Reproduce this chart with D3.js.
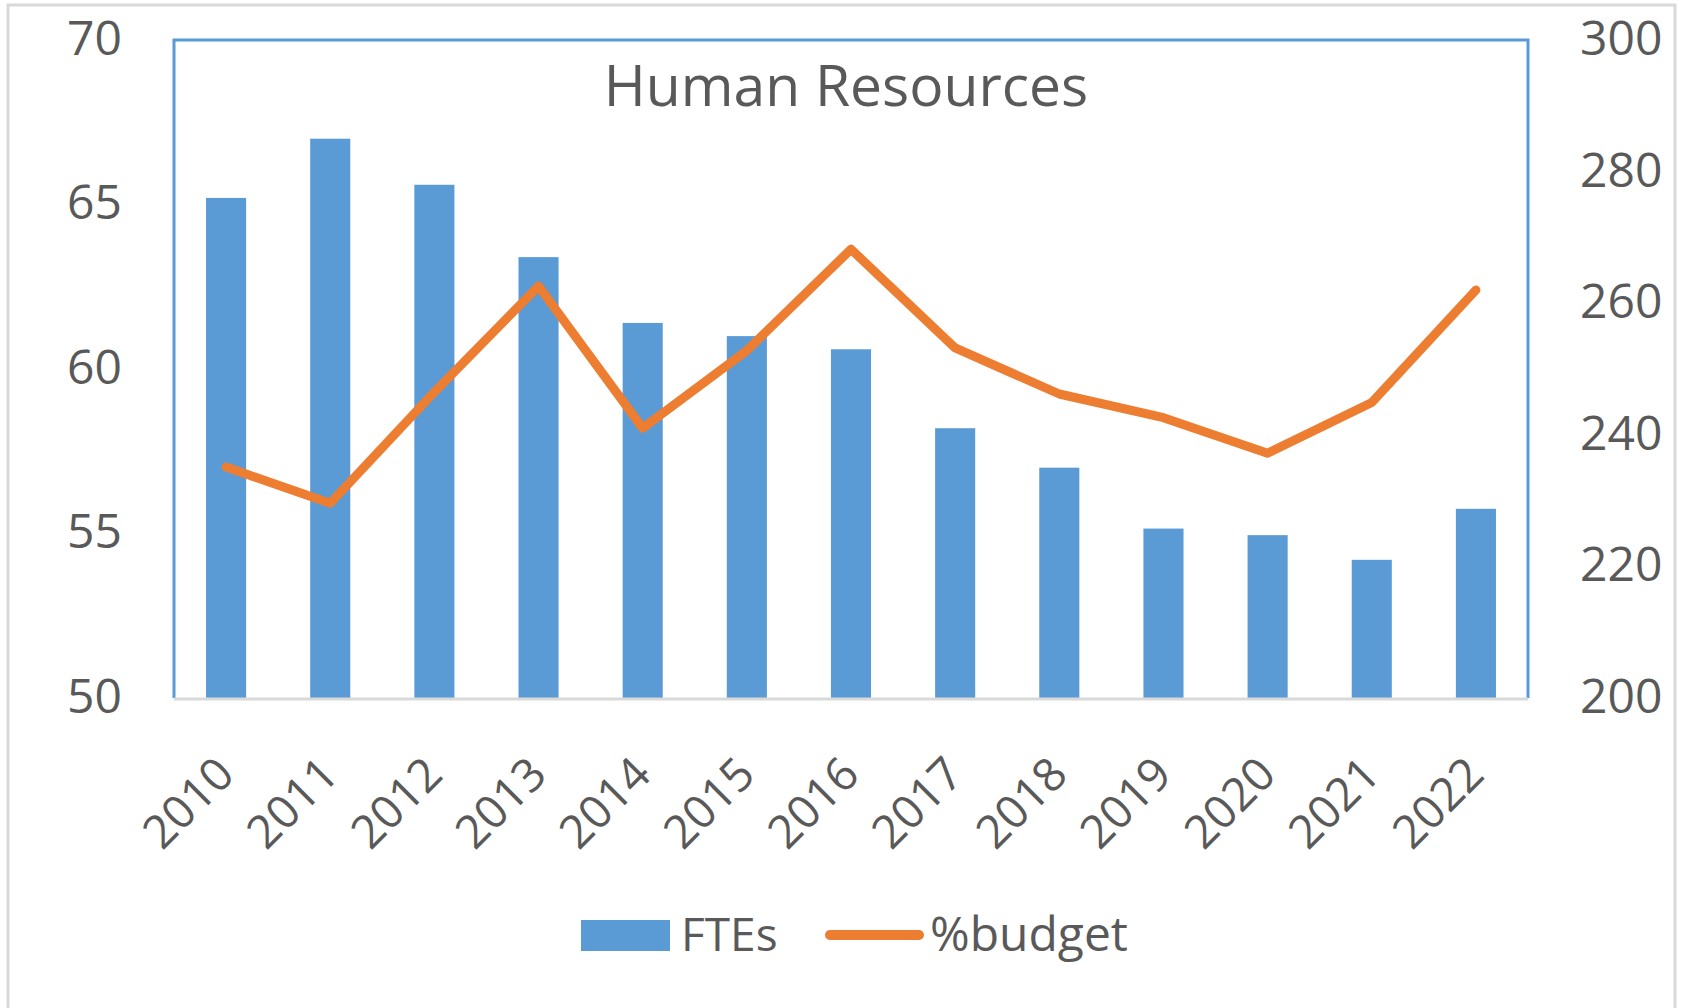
<!DOCTYPE html>
<html>
<head>
<meta charset="utf-8">
<script src="https://cdn.jsdelivr.net/npm/d3@7"></script>
<style>
  html, body { margin: 0; padding: 0; background: #ffffff; }
  svg { display: block; }
  text { font-family: "Open Sans", "Noto Sans", sans-serif; fill: #595959; }
</style>
</head>
<body>
<svg id="chart" width="1685" height="1008"></svg>
<script>
const categories = ["2010","2011","2012","2013","2014","2015","2016","2017","2018","2019","2020","2021","2022"];
const ftes = [65.2, 67.0, 65.6, 63.4, 61.4, 61.0, 60.6, 58.2, 57.0, 55.15, 54.95, 54.2, 55.75];
const budget = [235.1, 229.6, 246.5, 262.6, 241.0, 252.8, 268.2, 253.2, 246.2, 242.6, 237.2, 244.9, 262.0];
const leftTicks = [50, 55, 60, 65, 70];
const rightTicks = [200, 220, 240, 260, 280, 300];
const title = "Human Resources";
const seriesNames = ["FTEs", "%budget"];

const svg = d3.select("#chart");
const plot = { left: 174, top: 40, right: 1528, bottom: 698 };

// outer chart border
svg.append("rect")
  .attr("x", 8).attr("y", 5)
  .attr("width", 1667).attr("height", 1012)
  .attr("fill", "#ffffff")
  .attr("stroke", "#D9D9D9").attr("stroke-width", 3);

const x = d3.scaleBand().domain(categories)
  .range([plot.left, plot.right])
  .paddingInner(0.615).paddingOuter(0.3075);
const yL = d3.scaleLinear().domain([50, 70]).range([plot.bottom, plot.top]);
const yR = d3.scaleLinear().domain([200, 300]).range([plot.bottom, plot.top]);

// bars
svg.append("g").selectAll("rect").data(categories).join("rect")
  .attr("x", d => x(d))
  .attr("y", (d, i) => yL(ftes[i]))
  .attr("width", x.bandwidth())
  .attr("height", (d, i) => plot.bottom - yL(ftes[i]))
  .attr("fill", "#5B9BD5");

// plot-area border (blue top/left/right)
svg.append("path")
  .attr("d", `M${plot.left},${plot.bottom} V${plot.top} H${plot.right} V${plot.bottom}`)
  .attr("fill", "none").attr("stroke", "#5B9BD5").attr("stroke-width", 3);

// x axis line
svg.append("line")
  .attr("x1", plot.left).attr("x2", plot.right)
  .attr("y1", plot.bottom + 1).attr("y2", plot.bottom + 1)
  .attr("stroke", "#D9D9D9").attr("stroke-width", 3);

// line series
const line = d3.line()
  .x((d, i) => x(categories[i]) + x.bandwidth() / 2)
  .y(d => yR(d));
svg.append("path")
  .datum(budget)
  .attr("d", line)
  .attr("fill", "none")
  .attr("stroke", "#ED7D31")
  .attr("stroke-width", 9)
  .attr("stroke-linejoin", "round")
  .attr("stroke-linecap", "round");

// left axis
const axL = d3.axisLeft(yL).tickValues(leftTicks).tickSize(0).tickPadding(0);
const gL = svg.append("g").attr("transform", `translate(122,0)`).call(axL);
gL.select(".domain").remove();
gL.selectAll("text").attr("font-size", 48).attr("fill", "#595959")
  .attr("font-family", "Open Sans").attr("dy", "0.3em");

// right axis
const axR = d3.axisRight(yR).tickValues(rightTicks).tickSize(0).tickPadding(0);
const gR = svg.append("g").attr("transform", `translate(1580,0)`).call(axR);
gR.select(".domain").remove();
gR.selectAll("text").attr("font-size", 48).attr("fill", "#595959")
  .attr("font-family", "Open Sans").attr("dy", "0.3em");

// x axis labels
const axB = d3.axisBottom(x).tickSize(0).tickPadding(0);
const gB = svg.append("g").call(axB);
gB.select(".domain").remove();
gB.selectAll(".tick").attr("transform", d => `translate(${x(d) + x.bandwidth() / 2 - 4},768)`);
gB.selectAll("text")
  .attr("font-size", 46).attr("fill", "#595959").attr("font-family", "Open Sans")
  .attr("text-anchor", "end")
  .attr("x", 4).attr("y", 0).attr("dy", "0.36em")
  .attr("transform", "rotate(-45)");

// title
svg.append("text")
  .attr("x", 846).attr("y", 106)
  .attr("text-anchor", "middle")
  .attr("font-size", 57)
  .text(title);

// legend
const lg = svg.append("g");
lg.append("rect").attr("x", 581).attr("y", 920).attr("width", 89).attr("height", 31).attr("fill", "#5B9BD5");
lg.append("text").attr("x", 681).attr("y", 951).attr("font-size", 46).text(seriesNames[0]);
lg.append("line").attr("x1", 830).attr("x2", 919).attr("y1", 935).attr("y2", 935)
  .attr("stroke", "#ED7D31").attr("stroke-width", 10).attr("stroke-linecap", "round");
lg.append("text").attr("x", 930).attr("y", 951).attr("font-size", 48).text(seriesNames[1]);
</script>
</body>
</html>
